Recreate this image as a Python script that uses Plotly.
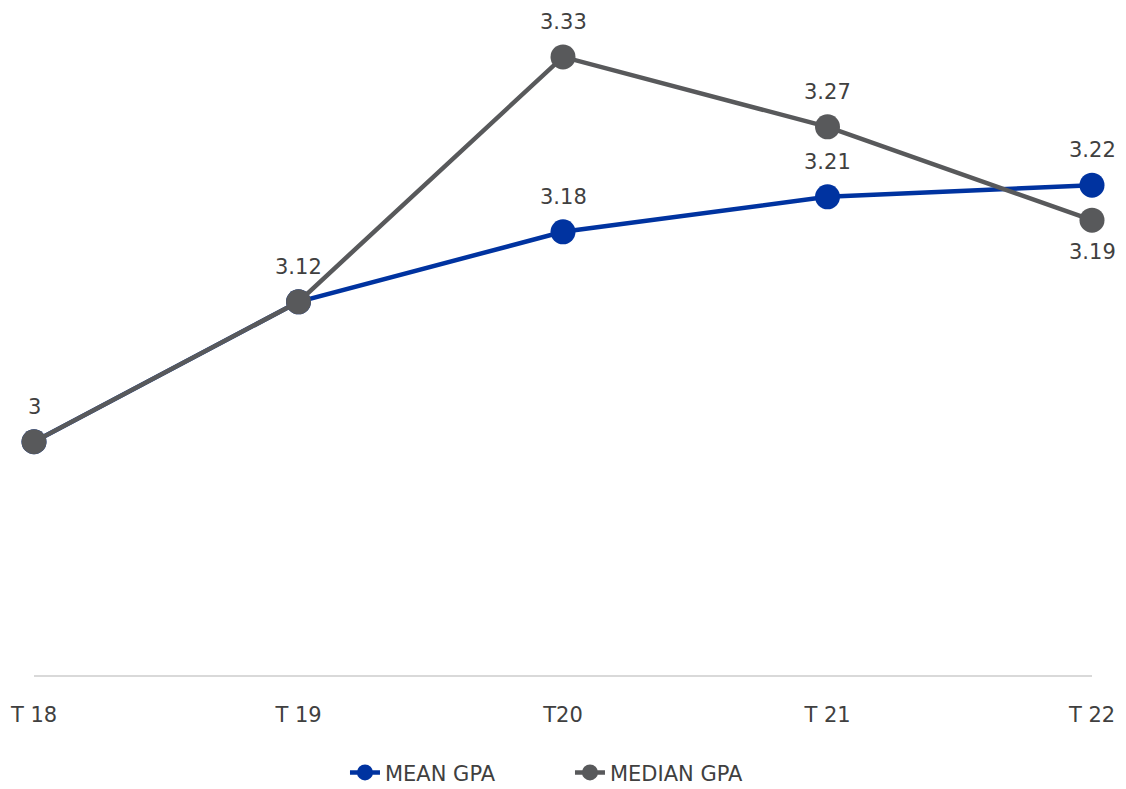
import plotly.graph_objects as go

categories = ["T 18", "T 19", "T20", "T 21", "T 22"]
mean_gpa = [3.00, 3.12, 3.18, 3.21, 3.22]
median_gpa = [3.00, 3.12, 3.33, 3.27, 3.19]
mean_text = ["", "", "3.18", "3.21", "3.22"]
median_text = ["3", "3.12", "3.33", "3.27", "3.19"]
mean_above = [True, True, True, True, True]
median_above = [True, True, True, True, False]

BLUE = "#0033A0"
GRAY = "#58595B"
TEXT = "#404040"
FONT = "DejaVu Sans"
FS = 21

x = list(range(len(categories)))

fig = go.Figure()
fig.add_trace(go.Scatter(
    x=x, y=mean_gpa, name="MEAN GPA", mode="lines+markers",
    line=dict(color=BLUE, width=4.5),
    marker=dict(color=BLUE, size=25),
    cliponaxis=False,
))
fig.add_trace(go.Scatter(
    x=x, y=median_gpa, name="MEDIAN GPA", mode="lines+markers",
    line=dict(color=GRAY, width=4.5),
    marker=dict(color=GRAY, size=25),
    cliponaxis=False,
))

for xs, ys, ts, ab in [(x, mean_gpa, mean_text, mean_above),
                       (x, median_gpa, median_text, median_above)]:
    for xi, yi, ti, up in zip(xs, ys, ts, ab):
        if not ti:
            continue
        fig.add_annotation(x=xi, y=yi, text=ti, showarrow=False,
                           yshift=35 if up else -32,
                           font=dict(family=FONT, size=FS, color=TEXT))

fig.update_layout(
    width=1126, height=789,
    margin=dict(l=26, r=42, t=2, b=122),
    paper_bgcolor="white", plot_bgcolor="white",
    font=dict(family=FONT, size=FS, color=TEXT),
    showlegend=True,
    legend=dict(orientation="h", x=0.5066, xanchor="center", y=-0.147, yanchor="middle",
                font=dict(family=FONT, size=FS, color=TEXT), entrywidth=180,
                traceorder="normal"),
    xaxis=dict(
        tickvals=x, ticktext=categories, range=[0, 4],
        showgrid=False, zeroline=False,
        showline=True, linecolor="#D9D9D9", linewidth=2,
        ticks="", ticklabelstandoff=20,
        tickfont=dict(family=FONT, size=FS, color=TEXT),
    ),
    yaxis=dict(
        range=[2.8, 3.3702], visible=False, showgrid=False, zeroline=False,
    ),
)

fig.write_html("out.html")
